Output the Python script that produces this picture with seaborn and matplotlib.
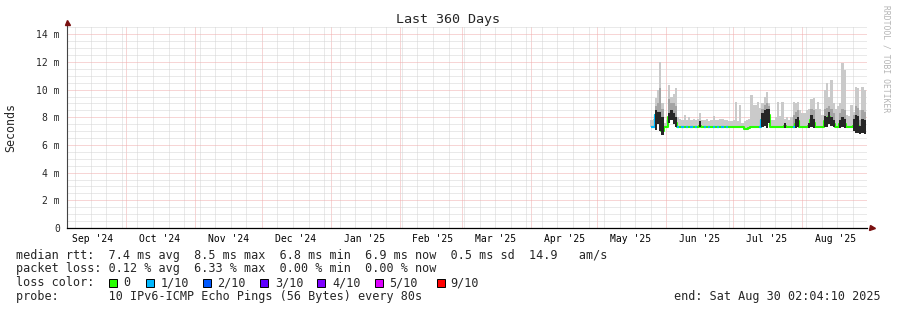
import numpy as np
import pandas as pd
import matplotlib
matplotlib.use("Agg")
import matplotlib.pyplot as plt
import matplotlib.dates as mdates
from matplotlib.ticker import MultipleLocator, NullFormatter
from matplotlib.patches import Rectangle
import seaborn as sns

# ---------------- data ----------------
title = "Last 360 Days"
y_label = "Seconds"
range_start = "2024-09-04 02:04:10"
range_end = "2025-08-30 02:04:10"
data_start = "2025-05-25 08:00"

y_ticks = [0, 2, 4, 6, 8, 10, 12, 14]
y_tick_labels = ["0", "2 m", "4 m", "6 m", "8 m", "10 m", "12 m", "14 m"]

month_labels = ["Sep '24", "Oct '24", "Nov '24", "Dec '24", "Jan '25", "Feb '25",
                "Mar '25", "Apr '25", "May '25", "Jun '25", "Jul '25", "Aug '25"]
month_label_dates = ["2024-09-16", "2024-10-16", "2024-11-16", "2024-12-16",
                     "2025-01-16", "2025-02-16", "2025-03-16", "2025-04-16",
                     "2025-05-16", "2025-06-16", "2025-07-16", "2025-08-16"]

# daily median rtt (ms), from 2025-05-25
median_ms = [7.3, 7.3, 8.2, 8.0, 7.6, 7.0, 7.3, 7.3, 8.0, 8.2,
             7.9, 7.6, 7.3, 7.3, 7.3, 7.3, 7.3, 7.3, 7.3, 7.3,
             7.3, 7.3, 7.4, 7.3, 7.3, 7.3, 7.3, 7.3, 7.3, 7.3,
             7.3, 7.3, 7.3, 7.3, 7.3, 7.3, 7.3, 7.3, 7.3, 7.3,
             7.3, 7.3, 7.15, 7.15, 7.25, 7.3, 7.3, 7.3, 7.3, 7.3,
             7.8, 8.0, 8.3, 8.2, 7.3, 7.3, 7.3, 7.3, 7.3, 7.3,
             7.4, 7.3, 7.3, 7.3, 7.3, 7.5, 7.7, 7.3, 7.3, 7.3,
             7.3, 7.4, 7.8, 7.6, 7.3, 7.3, 7.3, 7.3, 7.7, 7.6,
             8.0, 7.7, 7.5, 7.3, 7.3, 7.5, 7.6, 7.5, 7.3, 7.3,
             7.3, 7.4, 7.5, 7.4, 7.0, 7.3, 7.0]

# outer smoke (max ping) per day
smoke_top = [7.8, 7.9, 9.4, 10.0, 12.0, 9.0, 7.6, 7.8, 10.3, 9.5,
             9.7, 10.1, 8.0, 7.9, 7.8, 8.2, 7.8, 8.0, 7.8, 7.9,
             7.8, 7.9, 8.3, 7.8, 7.8, 7.9, 7.7, 7.8, 8.1, 7.8,
             7.8, 7.9, 7.9, 7.8, 7.8, 7.7, 7.7, 7.8, 9.1, 7.7,
             8.9, 7.6, 7.7, 7.8, 7.9, 9.6, 8.9, 8.9, 9.1, 8.7,
             9.0, 9.5, 9.8, 9.0, 7.8, 7.8, 8.0, 9.1, 8.1, 9.1,
             7.9, 8.0, 7.8, 8.0, 9.1, 9.0, 9.1, 8.5, 8.3, 8.3,
             8.5, 8.6, 9.3, 9.4, 8.6, 9.1, 8.6, 8.2, 10.0, 10.5,
             9.5, 10.7, 9.0, 8.6, 8.8, 9.0, 11.9, 11.4, 8.2, 8.1,
             8.9, 8.4, 10.2, 10.1, 8.5, 10.2, 10.0]

N = np.nan
# middle smoke band top
smoke_mid = [N, N, 8.8, 9.0, 10.1, 8.6, N, N, 9.3, 9.0,
             9.0, 8.8, N, N, N, N, N, N, N, N,
             N, N, N, N, N, N, N, N, N, N,
             N, N, N, N, N, N, N, N, N, N,
             N, N, N, N, N, N, N, N, N, N,
             8.6, 8.9, 9.0, 8.8, N, N, N, N, N, N,
             N, N, N, N, 8.2, 8.4, 8.5, N, N, N,
             N, N, 8.6, 8.5, N, N, N, N, 8.6, 8.7,
             8.8, 8.6, 8.3, N, N, 8.3, 8.6, 8.5, N, N,
             N, 8.2, 8.8, 8.7, 7.8, 8.5, 8.4]

# inner (dark) smoke band
dark_lo = [N, N, 7.1, 7.5, 7.0, 6.7, N, N, 7.6, 7.8,
           7.5, 7.3, N, N, N, N, N, N, N, N,
           N, N, 7.3, N, N, N, N, N, N, N,
           N, N, N, N, N, N, N, N, N, N,
           N, N, N, N, N, N, N, N, N, N,
           7.3, 7.4, 7.2, 7.6, N, N, N, N, N, N,
           7.2, N, N, N, N, 7.2, 7.3, N, N, N,
           N, 7.2, 7.3, 7.2, N, N, N, N, 7.3, 7.3,
           7.5, 7.4, 7.3, N, N, 7.2, 7.3, 7.2, N, N,
           N, 7.0, 6.9, 6.9, 6.8, 6.9, 6.8]
dark_hi = [N, N, 8.5, 8.4, 8.4, 8.0, N, N, 8.3, 8.5,
           8.3, 8.0, N, N, N, N, N, N, N, N,
           N, N, 7.7, N, N, N, N, N, N, N,
           N, N, N, N, N, N, N, N, N, N,
           N, N, N, N, N, N, N, N, N, N,
           8.3, 8.5, 8.6, 8.6, N, N, N, N, N, N,
           7.6, N, N, N, N, 7.9, 8.0, N, N, N,
           N, 7.6, 8.2, 7.9, N, N, N, N, 8.1, 8.0,
           8.4, 8.0, 7.8, N, N, 7.8, 8.0, 7.9, N, N,
           N, 7.9, 8.2, 8.1, 7.4, 7.9, 7.8]

# loss class per day (0 = 0/10, 1 = 1/10)
loss_class = [1, 1, 1, 0, 1, 0, 0, 0, 1, 0,
              1, 0, 1, 0, 1, 0, 1, 0, 1, 0,
              1, 0, 1, 0, 1, 0, 1, 0, 1, 0,
              1, 0, 1, 0, 1, 0, 0, 0, 0, 0,
              0, 0, 0, 0, 0, 0, 0, 0, 0, 1,
              1, 0, 1, 1, 0, 0, 0, 0, 0, 0,
              1, 0, 0, 0, 1, 0, 1, 0, 0, 0,
              0, 0, 0, 0, 0, 0, 0, 0, 0, 0,
              1, 0, 0, 0, 0, 0, 0, 0, 0, 0,
              0, 0, 1, 0, 0, 0, 0]

loss_labels = ["0", "1/10", "2/10", "3/10", "4/10", "5/10", "9/10"]
loss_colors = ["#26ff00", "#00b8ff", "#0059ff", "#5e00ff", "#7e00ff", "#dd00ff", "#ff0000"]

line_median = "median rtt:  7.4 ms avg  8.5 ms max  6.8 ms min  6.9 ms now  0.5 ms sd  14.9   am/s"
line_loss = "packet loss: 0.12 % avg  6.33 % max  0.00 % min  0.00 % now"
line_color = "loss color:"
line_probe = "probe:       10 IPv6-ICMP Echo Pings (56 Bytes) every 80s"
end_text = "end: Sat Aug 30 02:04:10 2025"
side_text = "RRDTOOL / TOBI OETIKER"

# ---------------- drawing ----------------
sns.set_style("white")
plt.rcParams["font.family"] = ["DejaVu Sans Mono", "DejaVu Sans"]

W, H = 897, 310
fig = plt.figure(figsize=(W / 100, H / 100), dpi=100)
fig.patch.set_facecolor("white")

def fx(px):
    return px / W

def fy(py):
    return 1 - py / H

ax = fig.add_axes([fx(66.5), 82 / H, 800 / W, 202 / H])
ax.set_facecolor("white")

dates = pd.date_range(data_start, periods=len(median_ms), freq="D")
med = np.array(median_ms, dtype=float)
top = np.array(smoke_top, dtype=float)
mid = np.array(smoke_mid, dtype=float)
dlo = np.array(dark_lo, dtype=float)
dhi = np.array(dark_hi, dtype=float)
loss = np.array(loss_class)

# smoke
ax.bar(dates, top - med, bottom=med, width=1.0, color="#cacaca", linewidth=0, zorder=2)
ax.bar(dates, mid - med, bottom=med, width=1.0, color="#a4a4a4", linewidth=0, zorder=2.1)

# median line
sns.lineplot(x=dates, y=med, ax=ax, color="#26ff00", linewidth=1.5,
             drawstyle="steps-mid", zorder=3, legend=False, solid_capstyle="butt")
cyan = np.where(loss == 1, med, np.nan)
ax.plot(dates, cyan, color="#00b8ff", linewidth=1.5, drawstyle="steps-mid", zorder=3.1,
        solid_capstyle="butt")

ax.bar(dates, dhi - dlo, bottom=dlo, width=1.0, color="#262626", linewidth=0, zorder=4)
ax.set_xlabel("")
ax.set_ylabel("")

# axes ranges and grid
ax.set_xlim(pd.Timestamp(range_start), pd.Timestamp(range_end))
ax.set_ylim(0, 14.6)
ax.set_yticks(y_ticks)
ax.set_yticklabels(y_tick_labels)
ax.yaxis.set_minor_locator(MultipleLocator(0.5))
ax.xaxis.set_major_locator(mdates.MonthLocator())
ax.xaxis.set_minor_locator(mdates.WeekdayLocator(byweekday=mdates.SU))
ax.xaxis.set_major_formatter(NullFormatter())
ax.set_axisbelow(True)
ax.grid(which="major", axis="both", color="#f1acac", linewidth=0.72,
        linestyle=(0, (1, 1)), zorder=0)
ax.grid(which="minor", axis="both", color="#d4d4d4", linewidth=0.72,
        linestyle=(0, (1, 1)), zorder=0)
ax.tick_params(axis="y", which="major", length=2.5, width=0.72, color="#999999",
               labelsize=7, pad=2.2)
ax.tick_params(axis="y", which="minor", length=1.5, width=0.72, color="#cccccc")
ax.tick_params(axis="x", which="major", length=2.2, width=0.72, color="#e07070", direction="out")
ax.tick_params(axis="x", which="minor", length=0)
for s in ["top", "right"]:
    ax.spines[s].set_visible(False)
ax.spines["left"].set_color("#444444")
ax.spines["bottom"].set_color("#000000")
ax.spines["left"].set_linewidth(0.8)
ax.spines["bottom"].set_linewidth(0.9)

for d, lab in zip(month_label_dates, month_labels):
    ax.text(mdates.date2num(pd.Timestamp(d)), -10.5 / 202, lab, transform=ax.get_xaxis_transform(),
            ha="center", va="center", fontsize=7, color="#000000")

# arrows
ax.plot([0], [1 + 4 / 202], marker="^", color="#7a1010", markersize=3.6,
        transform=ax.transAxes, clip_on=False, zorder=6)
ax.plot([1 + 5 / 800], [0], marker=">", color="#7a1010", markersize=3.6,
        transform=ax.transAxes, clip_on=False, zorder=6)

# texts
fig.text(fx(448), fy(19), title, ha="center", va="center", fontsize=9.6)
fig.text(fx(11), fy(127), y_label, rotation=90, ha="center", va="center", fontsize=8.4)
fig.text(fx(886), fy(59), side_text, rotation=270, ha="center", va="center",
         fontsize=5.8, color="#b4b4b4")

fs = 8.5
fig.text(fx(16), fy(258.5), line_median, ha="left", va="baseline", fontsize=fs)
fig.text(fx(16), fy(272.3), line_loss, ha="left", va="baseline", fontsize=fs)
fig.text(fx(16), fy(286.3), line_color, ha="left", va="baseline", fontsize=fs)
fig.text(fx(16), fy(300.2), line_probe, ha="left", va="baseline", fontsize=fs)
fig.text(fx(881), fy(300.2), end_text, ha="right", va="baseline", fontsize=fs)

sq_x = [108.5, 146, 203, 260, 317, 375, 437]
lab_x = [123, 160.5, 217.5, 275.5, 332, 389.5, 450]
for c, lab, sx, lx in zip(loss_colors, loss_labels, sq_x, lab_x):
    fig.patches.append(Rectangle((fx(sx), fy(287)), 8 / W, 8 / H, transform=fig.transFigure,
                                 facecolor=c, edgecolor="#000000", linewidth=0.7, figure=fig))
    fig.text(fx(lx), fy(286.3), lab, ha="left", va="baseline", fontsize=fs)

fig.savefig("out.png", dpi=100, facecolor="white")
